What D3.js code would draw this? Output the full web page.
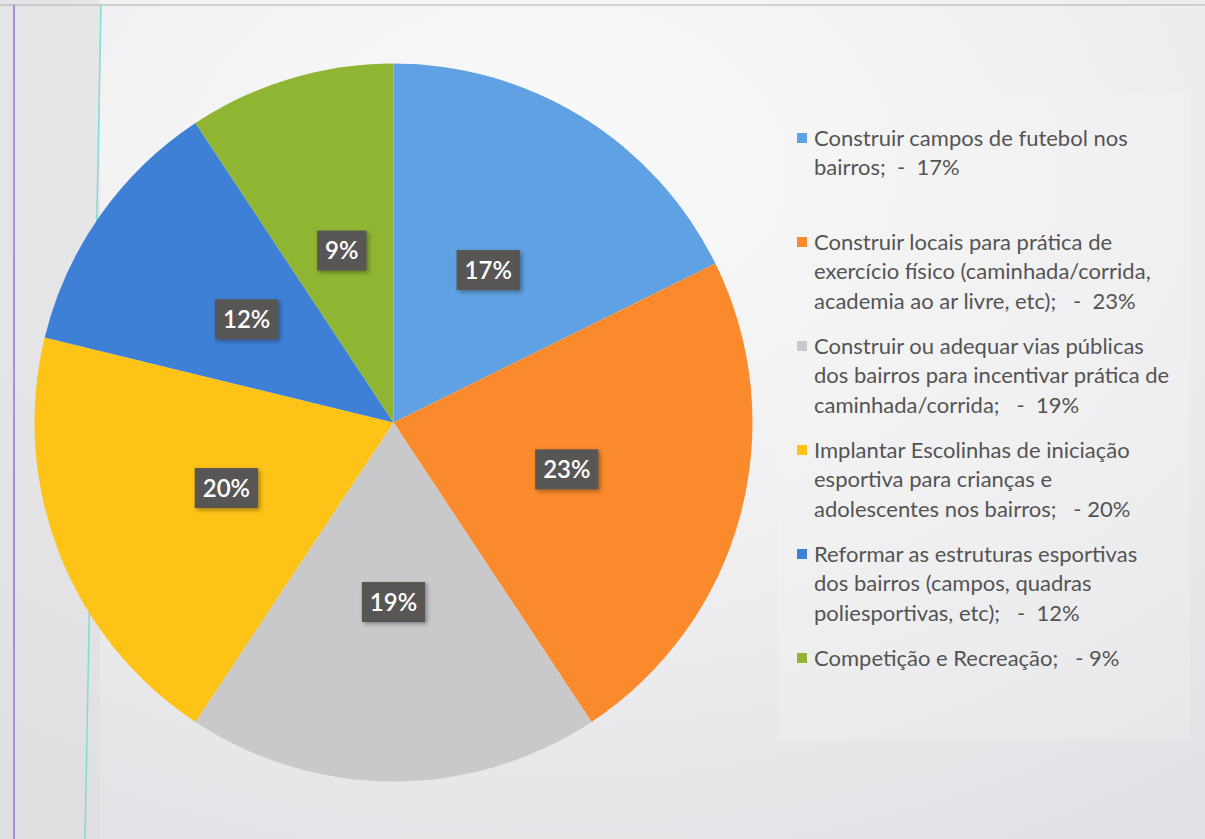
<!DOCTYPE html>
<html><head><meta charset="utf-8">
<script src="https://cdn.jsdelivr.net/npm/d3@7/dist/d3.min.js"></script>
<style>html,body{margin:0;padding:0;background:#e9e9eb;}svg{display:block;}</style>
</head><body><div id="chart"></div>
<script>
// Data
const categories = [
  "Construir campos de futebol nos bairros;",
  "Construir locais para prática de exercício físico (caminhada/corrida, academia ao ar livre, etc);",
  "Construir ou adequar vias públicas dos bairros para incentivar prática de caminhada/corrida;",
  "Implantar Escolinhas de iniciação esportiva para crianças e adolescentes nos bairros;",
  "Reformar as estruturas esportivas dos bairros (campos, quadras poliesportivas, etc);",
  "Competição e Recreação;"
];
const shares = [17.7, 23.0, 18.6, 19.5, 11.9, 9.3];   // slice sizes
const pctLabels = ["17%", "23%", "19%", "20%", "12%", "9%"];
const legendLines = [
  ["Construir campos de futebol nos", "bairros;  -  17%"],
  ["Construir locais para prática de", "exercício físico (caminhada/corrida,", "academia ao ar livre, etc);   -  23%"],
  ["Construir ou adequar vias públicas", "dos bairros para incentivar prática de", "caminhada/corrida;   -  19%"],
  ["Implantar Escolinhas de iniciação", "esportiva para crianças e", "adolescentes nos bairros;   - 20%"],
  ["Reformar as estruturas esportivas", "dos bairros (campos, quadras", "poliesportivas, etc);   -  12%"],
  ["Competição e Recreação;   - 9%"]
];
const colors = ["#5fa1e2", "#fb8a2c", "#c9c9cb", "#fdc316", "#3e80d6", "#8fb532"];

const W = 1205, H = 839;
const svg = d3.select("#chart").append("svg").attr("width", W).attr("height", H);
const defs = svg.append("defs");
const bg = defs.append("radialGradient").attr("id","bg").attr("cx","0.45").attr("cy","0.2").attr("r","0.9");
bg.append("stop").attr("offset","0").attr("stop-color","#fafafa");
bg.append("stop").attr("offset","0.55").attr("stop-color","#efeff1");
bg.append("stop").attr("offset","1").attr("stop-color","#e2e2e6");
svg.append("rect").attr("width",W).attr("height",H).attr("fill","url(#bg)");
svg.append("rect").attr("x",0).attr("y",0).attr("width",100).attr("height",H).attr("fill","#dcdcde").attr("opacity",0.55);
// scan artifacts
svg.append("line").attr("x1",0).attr("x2",W).attr("y1",5).attr("y2",5).attr("stroke","#b0b0b4").attr("stroke-width",1.2);
svg.append("line").attr("x1",14).attr("x2",14).attr("y1",5).attr("y2",H).attr("stroke","#7a5ad0").attr("stroke-width",1.2);
svg.append("line").attr("x1",101).attr("x2",85).attr("y1",5).attr("y2",H).attr("stroke","#7fdcd6").attr("stroke-width",1.5);
// legend panel
svg.append("rect").attr("x",778).attr("y",95).attr("width",412).attr("height",645).attr("fill","#f4f4f5").attr("opacity",0.3);

const sh = defs.append("filter").attr("id","sh").attr("x","-30%").attr("y","-30%").attr("width","160%").attr("height","160%");
sh.append("feDropShadow").attr("dx",2).attr("dy",2).attr("stdDeviation",2).attr("flood-color","#000").attr("flood-opacity",0.35);

const cx = 393.5, cy = 422.5, R = 359;
const pie = d3.pie().sort(null).value(d => d);
const arcs = pie(shares);
const arc = d3.arc().innerRadius(0).outerRadius(R);
const labelArc = d3.arc().innerRadius(R*0.5).outerRadius(R*0.5);
const g = svg.append("g").attr("transform",`translate(${cx},${cy})`);
g.selectAll("path").data(arcs).enter().append("path")
  .attr("d", arc).attr("fill",(d,i)=>colors[i]);

const lg = g.selectAll("g.lab").data(arcs).enter().append("g").attr("class","lab")
  .attr("transform", d => `translate(${labelArc.centroid(d)})`);
lg.each(function(d,i){
  const sel = d3.select(this);
  const t = sel.append("text").text(pctLabels[i])
    .attr("text-anchor","middle").attr("dy","0.36em")
    .attr("font-family","Lato, 'Open Sans', sans-serif").attr("font-size",24).attr("font-weight",600)
    .attr("fill","#fff");
  const w = t.node().getComputedTextLength();
  sel.insert("rect","text").attr("x",-w/2-8).attr("y",-20).attr("width",w+16).attr("height",40)
    .attr("fill","#585655").attr("filter","url(#sh)");
});

// legend
const legend = svg.append("g");
legendLines.forEach((lines,i)=>{
  const y0 = 138 + i*104;
  legend.append("rect").attr("x",797).attr("y",y0-5).attr("width",10).attr("height",10).attr("fill",colors[i]);
  lines.forEach((ln,j)=>{
    legend.append("text").attr("x",814).attr("y",y0 + j*29.6).attr("dy","0.35em")
      .attr("font-family","Lato, 'Open Sans', sans-serif").attr("font-size",22)
      .attr("fill","#545454").attr("xml:space","preserve").style("white-space","pre").text(ln);
  });
});
</script></body></html>
